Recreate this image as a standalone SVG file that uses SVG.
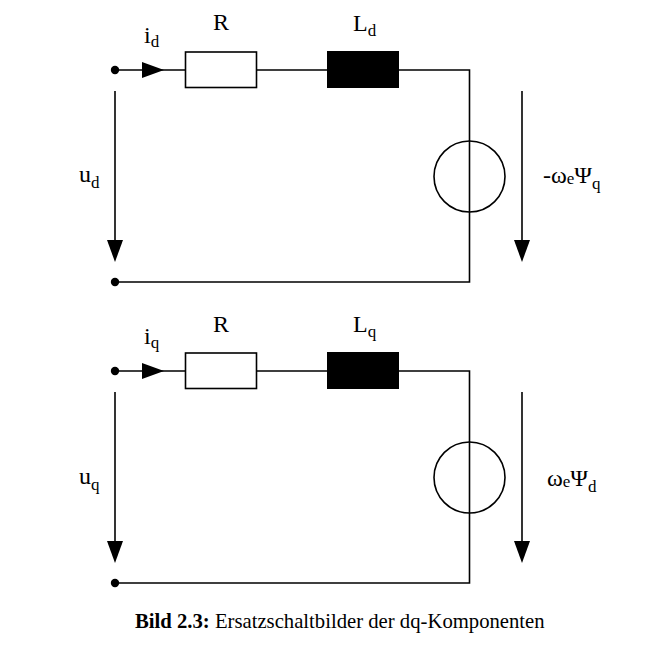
<svg xmlns="http://www.w3.org/2000/svg" width="657" height="647" viewBox="0 0 657 647">
<style>
.w{fill:none;stroke:#000;stroke-width:1.6}
.r{fill:#fff;stroke:#000;stroke-width:1.6}
.l{fill:#000;stroke:#000;stroke-width:1}
.h{fill:#000;stroke:none}
text{font-family:"Liberation Serif","Times New Roman",serif;fill:#000;font-size:24px}
.s{font-size:17px}
.c{font-size:20.700px}
</style>
<defs>
<marker id="ah" markerUnits="userSpaceOnUse" markerWidth="22" markerHeight="16" refX="0" refY="8" orient="auto"><path d="M0 0L22 8L0 16Z" fill="#000"/></marker>
</defs>
<rect width="657" height="647" fill="#fff"/>
<g id="connectors">
<path class="w" d="M115 70H185.500M256.500 70H327.500M398.500 70H469.500V282H115"/>
<path class="w" d="M115 91V240" marker-end="url(#ah)"/>
<path class="w" d="M522 91V240" marker-end="url(#ah)"/>
<path class="w" d="M115 371H185.500M256.500 371H327.500M398.500 371H469.500V583H115"/>
<path class="w" d="M115 392V541" marker-end="url(#ah)"/>
<path class="w" d="M522 392V541" marker-end="url(#ah)"/>
<path class="h" d="M142 62L164 70L142 78Z"/>
<path class="h" d="M142 363L164 371L142 379Z"/>
</g>
<g id="terminal-d-top"><circle cx="115" cy="70" r="4.200" class="h"/></g>
<g id="terminal-d-bottom"><circle cx="115" cy="282" r="4.200" class="h"/></g>
<g id="terminal-q-top"><circle cx="115" cy="371" r="4.200" class="h"/></g>
<g id="terminal-q-bottom"><circle cx="115" cy="583" r="4.200" class="h"/></g>
<g id="resistor-d"><rect class="r" x="185.500" y="52" width="71" height="35.500"/></g>
<g id="inductor-d"><rect class="l" x="327.500" y="51.500" width="71" height="36"/></g>
<g id="source-d"><circle class="w" cx="469.500" cy="176.500" r="35.500"/></g>
<g id="resistor-q"><rect class="r" x="185.500" y="353" width="71" height="35.500"/></g>
<g id="inductor-q"><rect class="l" x="327.500" y="352.500" width="71" height="36"/></g>
<g id="source-q"><circle class="w" cx="469.500" cy="477.500" r="35.500"/></g>
<g id="labels">
<text x="144" y="43">i<tspan class="s" dy="4">d</tspan></text>
<text x="213" y="30">R</text>
<text x="353" y="31">L<tspan class="s" dy="5">d</tspan></text>
<text x="79" y="182">u<tspan class="s" dy="6">d</tspan></text>
<text x="543" y="183">-ω<tspan class="s" dy="1">e</tspan><tspan dy="-1">Ψ</tspan><tspan class="s" dy="6">q</tspan></text>
<text x="144" y="344">i<tspan class="s" dy="4">q</tspan></text>
<text x="213" y="332">R</text>
<text x="353" y="332">L<tspan class="s" dy="5">q</tspan></text>
<text x="79" y="484">u<tspan class="s" dy="6">q</tspan></text>
<text x="547" y="486">ω<tspan class="s" dy="1">e</tspan><tspan dy="-1">Ψ</tspan><tspan class="s" dy="6">d</tspan></text>
<text class="c" x="135" y="628"><tspan font-weight="700">Bild 2.3:</tspan> Ersatzschaltbilder der dq-Komponenten</text>
</g>
</svg>
